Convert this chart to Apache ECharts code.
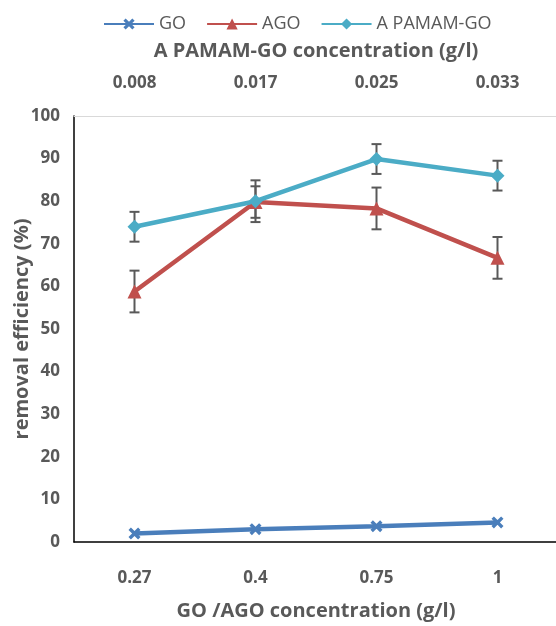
<!DOCTYPE html>
<html><head><meta charset="utf-8">
<script src="https://cdn.jsdelivr.net/npm/echarts@6/dist/echarts.min.js"></script>
<style>html,body{margin:0;padding:0;background:#fff;overflow:hidden}#c{width:556px;height:626px}</style>
</head><body><div id="c"></div>
<script>
const bottomCats = ['0.27', '0.4', '0.75', '1'];
const topCats = ['0.008', '0.017', '0.025', '0.033'];
const goVals = [2.0, 3.0, 3.7, 4.6];
const agoVals = [58.8, 79.8, 78.3, 66.7];
const agoErr = [4.9, 3.7, 4.9, 4.9];
const apVals = [74.0, 80.0, 89.9, 86.0];
const apErr = [3.5, 4.9, 3.5, 3.5];

const FONT = '"Open Sans", "Liberation Sans", sans-serif';
const TXT = '#595959';
const xPath = 'path://M2,0L5,3L8,0L10,2L7,5L10,8L8,10L5,7L2,10L0,8L3,5L0,2Z';

function errData(vals, errs) {
  return vals.map((v, i) => [i, v - errs[i], v + errs[i]]);
}
function errRender(params, api) {
  const x = api.value(0);
  const lo = api.coord([x, api.value(1)]);
  const hi = api.coord([x, api.value(2)]);
  const w = 5;
  const st = { stroke: '#595959', lineWidth: 2 };
  return {
    type: 'group',
    children: [
      { type: 'line', shape: { x1: lo[0], y1: lo[1], x2: hi[0], y2: hi[1] }, style: st },
      { type: 'line', shape: { x1: lo[0] - w, y1: lo[1], x2: lo[0] + w, y2: lo[1] }, style: st },
      { type: 'line', shape: { x1: hi[0] - w, y1: hi[1], x2: hi[0] + w, y2: hi[1] }, style: st }
    ]
  };
}

const chart = echarts.init(document.getElementById('c'), null, { renderer: 'canvas' });
chart.setOption({
  animation: false,
  backgroundColor: '#fff',
  textStyle: { fontFamily: FONT },
  legend: {
    top: 10, left: 98,
    itemWidth: 50, itemHeight: 14, itemGap: 20,
    textStyle: { fontFamily: FONT, fontSize: 18, color: TXT },
    data: ['GO', 'AGO', 'A PAMAM-GO']
  },
  grid: { show: false, borderWidth: 0, left: 74, top: 116, width: 484, height: 426, containLabel: false, outerBoundsMode: 'none' },
  xAxis: [
    {
      type: 'category', data: bottomCats, position: 'bottom',
      axisLine: { lineStyle: { color: '#000', width: 1.5 } },
      axisTick: { show: false },
      splitLine: { show: false },
      axisLabel: { margin: 28, fontSize: 17, fontWeight: 'bold', color: TXT, fontFamily: FONT },
      name: 'GO /AGO concentration (g/l)', nameLocation: 'middle', nameGap: 59, nameMoveOverlap: false,
      nameTextStyle: { fontSize: 20, fontWeight: 'bold', color: TXT, fontFamily: FONT }
    },
    {
      type: 'category', data: topCats, position: 'top',
      axisLine: { lineStyle: { color: '#d9d9d9', width: 1 } },
      axisTick: { show: false },
      splitLine: { show: false },
      axisLabel: { margin: 24, fontSize: 17, fontWeight: 'bold', color: TXT, fontFamily: FONT },
      name: 'A PAMAM-GO concentration (g/l)', nameLocation: 'middle', nameGap: 55, nameMoveOverlap: false,
      nameTextStyle: { fontSize: 20, fontWeight: 'bold', color: TXT, fontFamily: FONT }
    }
  ],
  yAxis: {
    type: 'value', min: 0, max: 100, interval: 10,
    axisLine: { show: true, lineStyle: { color: '#000', width: 1.5 } },
    axisTick: { show: false },
    splitLine: { show: false },
    axisLabel: { margin: 14, fontSize: 17, fontWeight: 'bold', color: TXT, fontFamily: FONT },
    name: 'removal efficiency (%)', nameLocation: 'middle', nameGap: 42, nameMoveOverlap: false,
    nameTextStyle: { fontSize: 20, fontWeight: 'bold', color: TXT, fontFamily: FONT }
  },
  series: [
    {
      name: 'GO', type: 'line', data: goVals, xAxisIndex: 0,
      symbol: xPath, symbolSize: 12,
      lineStyle: { color: '#4a7ebb', width: 4.5 },
      itemStyle: { color: '#4a7ebb' }
    },
    {
      name: 'AGO', type: 'line', data: agoVals, xAxisIndex: 0,
      symbol: 'triangle', symbolSize: 14,
      lineStyle: { color: '#c0504d', width: 4.5 },
      itemStyle: { color: '#c0504d' }
    },
    {
      name: 'A PAMAM-GO', type: 'line', data: apVals, xAxisIndex: 0,
      symbol: 'diamond', symbolSize: 14,
      lineStyle: { color: '#4bacc6', width: 4.5 },
      itemStyle: { color: '#4bacc6' }
    },
    {
      name: 'errAGO', type: 'custom', xAxisIndex: 0, renderItem: errRender,
      data: errData(agoVals, agoErr), z: 3, encode: { x: 0, y: [1, 2] }
    },
    {
      name: 'errAP', type: 'custom', xAxisIndex: 0, renderItem: errRender,
      data: errData(apVals, apErr), z: 3, encode: { x: 0, y: [1, 2] }
    }
  ]
});
</script>
</body></html>
